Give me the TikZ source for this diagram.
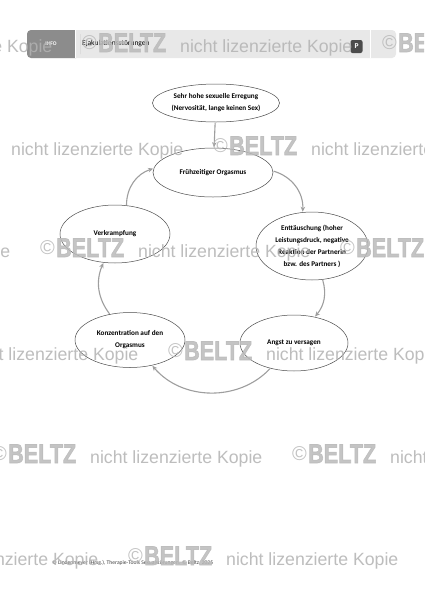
\documentclass[tikz,border=0pt]{standalone}
\usepackage{fontspec}
\setmainfont{Carlito}
\newfontfamily\wmfont{Liberation Sans}
\newfontfamily\wmheavy{Liberation Sans Bold}[FakeBold=2.5]
\usetikzlibrary{shapes.geometric,arrows.meta}
\begin{document}
\begin{tikzpicture}[x=1pt,y=1pt,
  bubble/.style={ellipse,draw=black!70,line width=0.5pt,inner sep=0pt,align=center,
    font=\bfseries\fontsize{7.2}{12}\selectfont,fill=white},
  arr/.style={draw=black!38,line width=1.1pt,-{Stealth[length=5pt,width=4.5pt]},
    shorten >=0.5pt,shorten <=0.5pt},
  wmc/.style={anchor=base west,inner sep=0pt,text=black!28,text opacity=0.85,
    font=\wmfont\fontsize{20}{20}\selectfont},
  wmb/.style={anchor=base west,inner sep=0pt,text=black!27,text opacity=0.85,
    font=\wmheavy\fontsize{27}{27}\selectfont},
  wmt/.style={anchor=base west,inner sep=0pt,text=black!30,text opacity=0.85,
    font=\wmfont\fontsize{17.7}{18}\selectfont}
]
\useasboundingbox (0,0) rectangle (424,-600);
\fill[white] (0,0) rectangle (424,-600);
\begin{scope}
\clip (0,0) rectangle (424,-600);

% header bar
\fill[black!9,rounded corners=4pt] (27,-30) rectangle (396,-58);
\fill[black!45,rounded corners=4pt] (27,-30) rectangle (80,-58);
\fill[black!9] (75,-30) rectangle (80,-58);
\fill[white] (74.6,-30) rectangle (75.8,-58);
\fill[white] (369.6,-30) rectangle (370.8,-58);
\node[text=white,font=\bfseries\fontsize{5.5}{6}\selectfont] (info) at (51,-44) {INFO};
\node[anchor=west,inner sep=0pt,font=\fontsize{7.5}{8}\selectfont] (title) at (82,-44) {Ejakulationsstörungen};
\node[fill=black!70,rounded corners=2pt,text=white,font=\bfseries\fontsize{7.5}{8}\selectfont,
  minimum width=12pt,minimum height=13pt,inner sep=0pt] (pbadge) at (356.5,-46.5) {P};

% diagram
\node[bubble,minimum width=127pt,minimum height=38pt] (e1) at (216,-103)
  {Sehr hohe sexuelle Erregung\\(Nervosität, lange keinen Sex)};
\node[bubble,minimum width=120pt,minimum height=49pt] (e2) at (213,-172.5)
  {Frühzeitiger Orgasmus};
\node[bubble,minimum width=112pt,minimum height=68pt] (e3) at (312,-246)
  {Enttäuschung (hoher\\Leistungsdruck, negative\\Reaktion der Partnerin\\bzw. des Partners )};
\node[bubble,minimum width=108pt,minimum height=56pt] (e4) at (294,-343)
  {Angst zu versagen};
\node[bubble,minimum width=110pt,minimum height=55pt] (e5) at (130,-340)
  {Konzentration auf den\\Orgasmus};
\node[bubble,minimum width=110pt,minimum height=58pt] (e6) at (115,-234)
  {Verkrampfung};

\draw[arr] (e1) -- (e2);
\draw[arr] (e2) to[bend left=38] (e3);
\draw[arr] (e3) to[bend left=28] (e4);
\draw[arr] (e4) to[bend left=48] (e5);
\draw[arr] (e5) to[bend left=30] (e6);
\draw[arr] (e6) to[bend left=36] (e2);

% footer
\node[anchor=west,inner sep=0pt,text=black!75,font=\fontsize{5.6}{6}\selectfont] (footer) at (52,-563)
  {© Lindenmeyer (Hrsg.), Therapie-Tools Sexualstörungen. © Beltz, 2025};

% watermarks
\foreach \r/\yy/\xx in {1/42/82,2/145/213,3/247/40,4/350/168,5/453/-8,6/555/128}{
  \foreach \k in {-1,0,1}{
    \pgfmathsetmacro\xa{\xx+300*\k}
    \pgfmathsetmacro\yb{-\yy-10}
    \node[wmc] (wmc\r\k) at (\xa,\yb+2.5) {©};
    \node[wmb] (wmb\r\k) at (\xa+16,\yb) {\scalebox{0.8}[1]{BELTZ}};
    \node[wmt] (wmt\r\k) at (\xa+98,\yb) {nicht lizenzierte Kopie};
  }
}
\end{scope}
\end{tikzpicture}
\end{document}
